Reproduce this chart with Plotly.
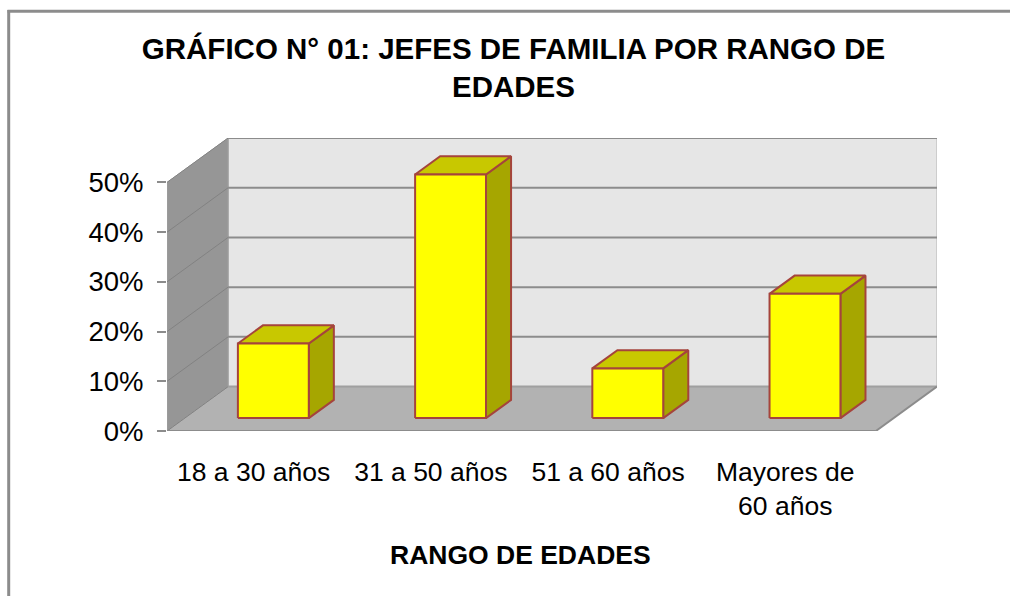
import plotly.graph_objects as go

CATEGORIES = ['18 a 30 años', '31 a 50 años', '51 a 60 años', 'Mayores de<br>60 años']
VALUES = [15, 49, 10, 25]
Y_TICKS = [0, 10, 20, 30, 40, 50]

# oblique depth of the fake 3D box, in axis units
DEPTH_X = 0.345
DEPTH_Y = 8.94
BAR_WIDTH = 0.4
BAR_NEAR = 0.29
BAR_FAR = 0.70
X_MIN = -0.5
X_MAX = 3.5
Y_MAX = 50

EDGE = '#a5443c'

# figure size and plot area in pixels, used for the chart frame
WIDTH = 1010
HEIGHT = 596
MARGIN = dict(l=167, r=73, t=138, b=165)
PLOT_W = WIDTH - MARGIN['l'] - MARGIN['r']
PLOT_H = HEIGHT - MARGIN['t'] - MARGIN['b']


def project(x, y, d):
    return x + d * DEPTH_X, y + d * DEPTH_Y


def add_poly(fig, corners, fill, line_color, line_width=1):
    pts = [project(*c) for c in corners]
    pts.append(pts[0])
    fig.add_trace(go.Scatter(
        x=[p[0] for p in pts],
        y=[p[1] for p in pts],
        mode='lines',
        fill='toself',
        fillcolor=fill,
        line=dict(color=line_color, width=line_width),
        hoverinfo='skip',
        showlegend=False,
        cliponaxis=False,
    ))


def add_line(fig, corners, color, width):
    pts = [project(*c) for c in corners]
    fig.add_trace(go.Scatter(
        x=[p[0] for p in pts],
        y=[p[1] for p in pts],
        mode='lines',
        line=dict(color=color, width=width),
        hoverinfo='skip',
        showlegend=False,
        cliponaxis=False,
    ))


def paper_x(px):
    return (px - MARGIN['l']) / PLOT_W


def paper_y(py):
    return (HEIGHT - MARGIN['b'] - py) / PLOT_H


fig = go.Figure()

# Walls and floor
add_poly(fig, [(X_MIN, 0, 1), (X_MAX, 0, 1), (X_MAX, Y_MAX, 1), (X_MIN, Y_MAX, 1)], '#e6e6e6', '#b4b4b4')
add_poly(fig, [(X_MIN, 0, 0), (X_MIN, 0, 1), (X_MIN, Y_MAX, 1), (X_MIN, Y_MAX, 0)], '#969696', '#a0a0a0')
add_poly(fig, [(X_MIN, 0, 0), (X_MAX, 0, 0), (X_MAX, 0, 1), (X_MIN, 0, 1)], '#b2b2b2', '#a0a0a0')

# Gridlines run along the side wall and across the back wall
for tick in Y_TICKS[1:]:
    add_line(fig, [(X_MIN, tick, 0), (X_MIN, tick, 1)], '#828282', 1)
    add_line(fig, [(X_MIN, tick, 1), (X_MAX, tick, 1)], '#8c8c8c', 2)
add_line(fig, [(X_MIN, 0, 0), (X_MIN, 0, 1)], '#828282', 1)
add_line(fig, [(X_MIN, 0, 1), (X_MAX, 0, 1)], '#a0a0a0', 2)
add_line(fig, [(X_MIN, 0, 0), (X_MAX, 0, 0)], '#8c8c8c', 2)
add_line(fig, [(X_MAX, 0, 0), (X_MAX, 0, 1)], '#8c8c8c', 2)

# Bars: side, top, then front face
for i, value in enumerate(VALUES):
    left = i - BAR_WIDTH / 2
    right = i + BAR_WIDTH / 2
    add_poly(fig, [(right, 0, BAR_NEAR), (right, 0, BAR_FAR), (right, value, BAR_FAR), (right, value, BAR_NEAR)],
             '#a6a600', EDGE, 2)
    add_poly(fig, [(left, value, BAR_NEAR), (right, value, BAR_NEAR), (right, value, BAR_FAR), (left, value, BAR_FAR)],
             '#c8c800', EDGE, 2)
    add_poly(fig, [(left, 0, BAR_NEAR), (right, 0, BAR_NEAR), (right, value, BAR_NEAR), (left, value, BAR_NEAR)],
             '#ffff00', EDGE, 2)

fig.update_layout(
    width=WIDTH,
    height=HEIGHT,
    margin=MARGIN,
    paper_bgcolor='white',
    plot_bgcolor='white',
    showlegend=False,
    font=dict(family='Liberation Sans', color='black'),
    title=dict(
        text='<b>GRÁFICO N° 01: JEFES DE FAMILIA POR RANGO DE<br>EDADES</b>',
        font=dict(size=29.5),
        x=513.5 / WIDTH,
        xanchor='center',
        y=1 - 59 / HEIGHT,
        yanchor='middle',
    ),
    xaxis=dict(
        range=[X_MIN, X_MAX + DEPTH_X],
        tickmode='array',
        tickvals=list(range(len(CATEGORIES))),
        ticktext=CATEGORIES,
        tickfont=dict(size=26.5),
        ticks='outside',
        ticklen=17,
        tickcolor='rgba(0,0,0,0)',
        ticklabelshift=-2,
        showgrid=False,
        zeroline=False,
        showline=False,
    ),
    yaxis=dict(
        range=[0, Y_MAX + DEPTH_Y],
        tickmode='array',
        tickvals=Y_TICKS,
        ticktext=[f'{t}%' for t in Y_TICKS],
        tickfont=dict(size=27.5),
        ticks='outside',
        ticklen=9,
        tickwidth=2,
        tickcolor='#8c8c8c',
        ticklabelstandoff=8,
        showgrid=False,
        zeroline=False,
        showline=False,
    ),
    annotations=[
        dict(text='<b>RANGO DE EDADES</b>', xref='paper', yref='paper',
             x=paper_x(520.5), y=paper_y(555), xanchor='center', yanchor='middle',
             showarrow=False, font=dict(size=26.5)),
    ],
    shapes=[
        dict(type='line', xref='paper', yref='paper',
             x0=paper_x(7.5), x1=paper_x(WIDTH), y0=paper_y(11.3), y1=paper_y(11.3),
             line=dict(color='#8c8c8c', width=3)),
        dict(type='line', xref='paper', yref='paper',
             x0=paper_x(8.7), x1=paper_x(8.7), y0=paper_y(10), y1=paper_y(HEIGHT),
             line=dict(color='#8c8c8c', width=3)),
    ],
)

# drop the default body margin so the figure sits at the window corner
fig.write_html('out.html', config={'displayModeBar': False},
               post_script="document.body.style.margin = '0';")
